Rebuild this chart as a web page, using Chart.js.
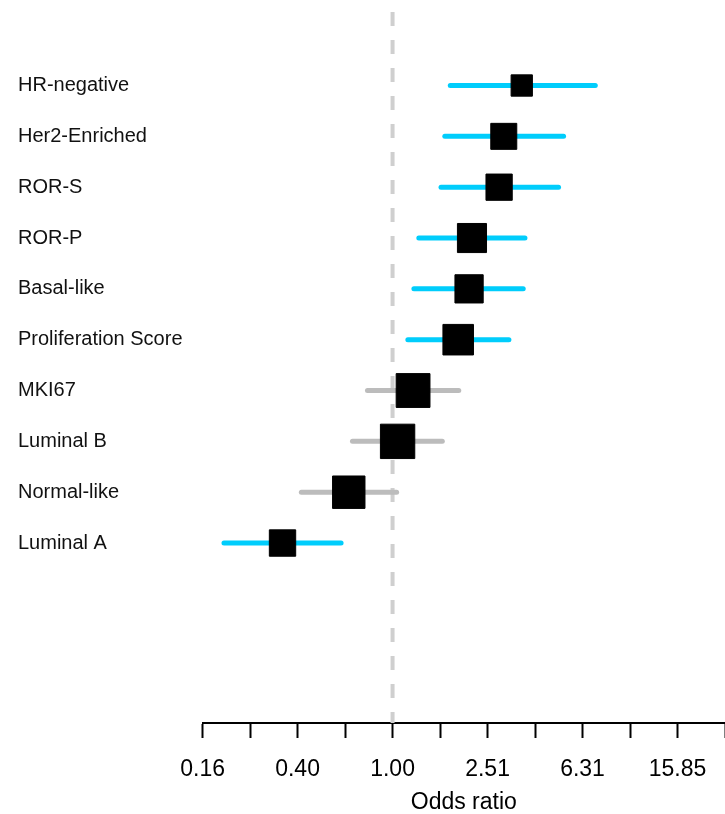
<!DOCTYPE html>
<html>
<head>
<meta charset="utf-8">
<script src="https://cdn.jsdelivr.net/npm/chart.js@4/dist/chart.umd.min.js"></script>
<style>
  html, body { margin: 0; padding: 0; background: #ffffff; }
  #wrap { width: 725px; height: 814px; }
</style>
</head>
<body>
<div id="wrap"><canvas id="forest" width="725" height="814"></canvas></div>
<script>
// Signatures, top row first
const categories = [
  'HR-negative', 'Her2-Enriched', 'ROR-S', 'ROR-P', 'Basal-like',
  'Proliferation Score', 'MKI67', 'Luminal B', 'Normal-like', 'Luminal A'
];
// Odds ratio and 95% confidence limits for each signature
const oddsRatios = [3.50, 2.94, 2.81, 2.16, 2.10, 1.89, 1.22, 1.05, 0.654, 0.344];
const ciLower    = [1.75, 1.66, 1.60, 1.29, 1.23, 1.16, 0.784, 0.678, 0.413, 0.195];
const ciUpper    = [7.14, 5.25, 5.00, 3.61, 3.55, 3.09, 1.90, 1.62, 1.04, 0.607];

// Log axis: labelled ticks and the unlabelled ticks between them
const majorTicks = [0.1585, 0.3981, 1.0, 2.5119, 6.3096, 15.8489];
const tickLabels = ['0.16', '0.40', '1.00', '2.51', '6.31', '15.85'];
const minorTicks = [0.2512, 0.6310, 1.5849, 3.9811, 10.0, 25.1189];
const referenceOR = 1;

const FONT = "'Liberation Sans', Arial, Helvetica, sans-serif";
const SIG_COLOR = '#00cdfc';
const NS_COLOR = '#bcbcbc';
const BOX_SCALE = 13; // box side (px) per unit of inverse log-CI width

const rowOf = i => i + 1;
const allTicks = majorTicks.flatMap((v, i) => [v, minorTicks[i]]);

// confidence interval segments, coloured by whether they exclude 1
const ciSets = categories.map((name, i) => {
  const significant = ciLower[i] > referenceOR || ciUpper[i] < referenceOR;
  return {
    label: name + ' CI',
    type: 'scatter',
    showLine: true,
    data: [{ x: ciLower[i], y: rowOf(i) }, { x: ciUpper[i], y: rowOf(i) }],
    borderColor: significant ? SIG_COLOR : NS_COLOR,
    borderWidth: 5,
    borderCapStyle: 'round',
    pointRadius: 0,
    pointHoverRadius: 0,
    order: 2
  };
});

// box size proportional to precision (inverse of log CI width)
const boxSides = categories.map((_, i) =>
  BOX_SCALE / Math.log10(ciUpper[i] / ciLower[i]));

const boxes = {
  label: 'Odds ratio',
  type: 'scatter',
  data: oddsRatios.map((v, i) => ({ x: v, y: rowOf(i) })),
  pointStyle: 'rect',
  pointRadius: boxSides.map(s => s / Math.SQRT2),
  pointHoverRadius: boxSides.map(s => s / Math.SQRT2),
  backgroundColor: '#000000',
  borderColor: '#000000',
  pointBorderWidth: 1,
  order: 1
};

const Y_MIN = -0.446, Y_MAX = 13.54;

const nullLine = {
  label: 'OR = 1',
  type: 'scatter',
  showLine: true,
  data: [{ x: referenceOR, y: Y_MIN }, { x: referenceOR, y: Y_MAX }],
  borderColor: '#cfcfcf',
  borderWidth: 4,
  borderDash: [14, 14],
  pointRadius: 0,
  pointHoverRadius: 0,
  order: 3
};

new Chart(document.getElementById('forest'), {
  type: 'scatter',
  data: { datasets: [boxes, ...ciSets, nullLine] },
  options: {
    responsive: false,
    animation: false,
    devicePixelRatio: 1,
    layout: { autoPadding: false, padding: { left: 18, right: 0, top: 12, bottom: 0 } },
    plugins: { legend: { display: false }, tooltip: { enabled: false } },
    scales: {
      x: {
        type: 'logarithmic',
        position: 'bottom',
        min: majorTicks[0],
        max: minorTicks[minorTicks.length - 1],
        afterBuildTicks: scale => { scale.ticks = allTicks.map(v => ({ value: v })); },
        afterFit: scale => {
          scale.height = 91;
          scale.paddingLeft = 0;
          scale.paddingRight = 0;
        },
        grid: {
          display: true,
          drawOnChartArea: false,
          drawTicks: true,
          tickLength: 15,
          tickWidth: 2,
          tickColor: '#000000'
        },
        border: { display: true, color: '#000000', width: 2 },
        ticks: {
          autoSkip: false,
          maxRotation: 0,
          minRotation: 0,
          padding: 18,
          color: '#000000',
          font: { family: FONT, size: 23 },
          callback: (value, index) => (index % 2 === 0 ? tickLabels[index / 2] : '')
        },
        title: {
          display: true,
          text: 'Odds ratio',
          color: '#000000',
          font: { family: FONT, size: 23, lineHeight: 1.0 },
          padding: { top: 0, bottom: 0 }
        }
      },
      y: {
        type: 'linear',
        position: 'left',
        reverse: true,
        min: Y_MIN,
        max: Y_MAX,
        afterBuildTicks: scale => { scale.ticks = categories.map((_, i) => ({ value: rowOf(i) })); },
        afterFit: scale => {
          scale.width = 184.6;
          scale.paddingTop = 0;
          scale.paddingBottom = 0;
        },
        grid: { display: false, drawTicks: false },
        border: { display: false },
        ticks: {
          crossAlign: 'far',
          padding: 0,
          color: '#111111',
          font: { family: FONT, size: 20 },
          callback: value => categories[Math.round(value) - 1]
        }
      }
    }
  }
});
</script>
</body>
</html>
